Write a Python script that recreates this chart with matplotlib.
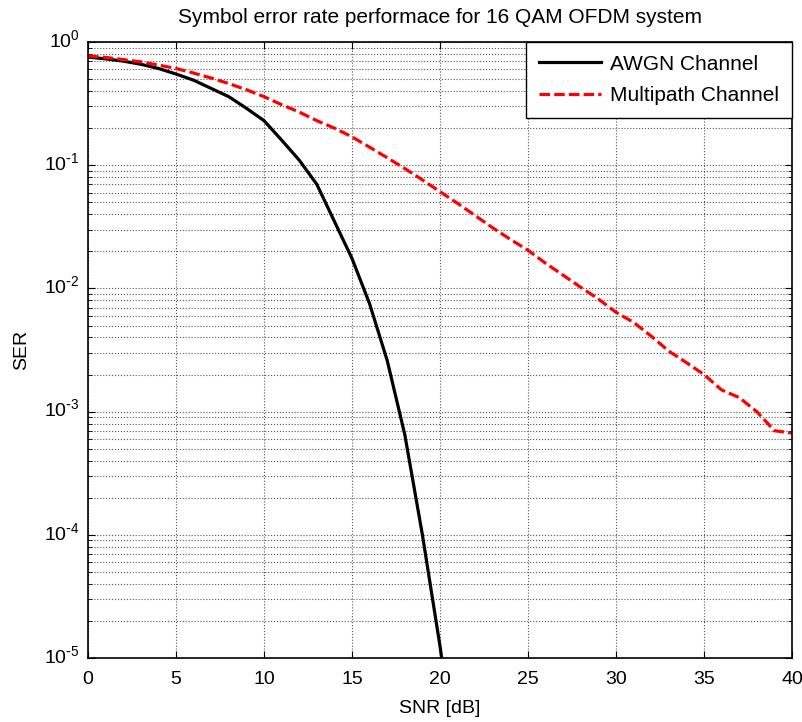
import numpy as np
import matplotlib
matplotlib.use("Agg")
import matplotlib.pyplot as plt
import matplotlib.transforms as mtransforms
from matplotlib.ticker import LogLocator, NullFormatter, MultipleLocator, FuncFormatter

plt.rcParams['font.family'] = ['Liberation Sans', 'DejaVu Sans']
plt.rcParams['mathtext.default'] = 'regular'

# ----- 数据-----
snr_awgn = np.arange(0, 22)
ser_awgn = [0.755, 0.73, 0.70, 0.66, 0.61, 0.55, 0.49, 0.42, 0.36, 0.29,
            0.23, 0.16, 0.11, 0.07, 0.035, 0.0175, 0.0075, 0.0026, 0.00065,
            0.0001, 1.25e-5, 1.2e-6]

snr_multi = np.arange(0, 41)
ser_multi = [0.77, 0.75, 0.72, 0.69, 0.65, 0.61, 0.56, 0.51, 0.46, 0.41,
             0.36, 0.31, 0.27, 0.23, 0.20, 0.17, 0.14, 0.115, 0.094, 0.076,
             0.061, 0.049, 0.039, 0.031, 0.025, 0.0204, 0.016, 0.0128, 0.0102,
             0.0082, 0.0064, 0.0053, 0.0041, 0.0031, 0.0025, 0.0020, 0.0015,
             0.0013, 0.0010, 0.0007, 0.00067]


def pow10_label(v, pos):
    # MATLAB 风格：指数用普通连字符
    k = int(round(np.log10(v)))
    if k < 0:
        return r'$10^{\text{-}%d}$' % (-k)
    return r'$10^{%d}$' % k


# ----- 绘图 -----
fig = plt.figure(figsize=(8.03, 7.22), dpi=100)
ax = fig.add_axes([0.1096, 0.0886, 0.8767, 0.8532])

ax.semilogy(snr_awgn, ser_awgn, 'k-', lw=2.3, label='AWGN Channel')
ax.semilogy(snr_multi, ser_multi, 'r--', lw=2.3, dashes=(3.3, 1.3), label='Multipath Channel')

ax.set_xlim(0, 40)
ax.set_ylim(1e-5, 1)
ax.xaxis.set_major_locator(MultipleLocator(5))
ax.yaxis.set_major_locator(LogLocator(base=10, numticks=10))
ax.yaxis.set_major_formatter(FuncFormatter(pow10_label))
ax.yaxis.set_minor_locator(LogLocator(base=10, subs=np.arange(2, 10), numticks=10))
ax.yaxis.set_minor_formatter(NullFormatter())

ax.grid(True, which='major', ls=':', color='#555555', lw=0.8)
ax.grid(True, which='minor', axis='y', ls=':', color='#555555', lw=0.8)
ax.tick_params(which='both', direction='in', top=True, right=True, labelsize=14)
ax.tick_params(which='major', length=5)
ax.tick_params(axis='x', which='major', pad=9)
ax.tick_params(axis='y', which='major', pad=6)
ax.tick_params(which='minor', length=3)
for s in ax.spines.values():
    s.set_linewidth(1.2)

ax.set_xlabel("SNR [dB]", fontsize=14, labelpad=9)
ax.set_ylabel("SER", fontsize=14, labelpad=10)
ax.set_title("Symbol error rate performace for 16 QAM OFDM system", fontsize=15, pad=14)

leg = ax.legend(loc='upper right', borderaxespad=0, fancybox=False, edgecolor='black',
                framealpha=1, fontsize=15, handlelength=3.0, handletextpad=0.45,
                borderpad=0.6, labelspacing=0.6)
leg.get_frame().set_linewidth(1.0)

# y 刻度标签略微上移，使底数 "10" 对准刻度线
fig.canvas.draw()
shift = mtransforms.ScaledTranslation(0, 3 / 72, fig.dpi_scale_trans)
for lab in ax.get_yticklabels():
    lab.set_transform(lab.get_transform() + shift)

plt.savefig("out.png", dpi=100)
